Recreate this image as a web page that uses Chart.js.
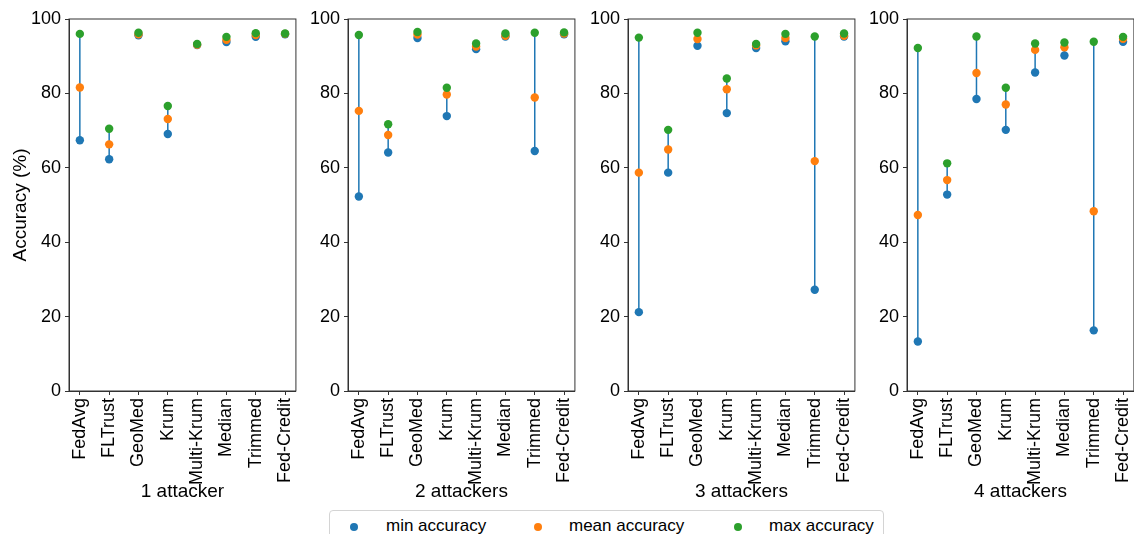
<!DOCTYPE html>
<html>
<head>
<meta charset="utf-8">
<script src="https://cdn.jsdelivr.net/npm/chart.js@4/dist/chart.umd.min.js"></script>
<style>
  html, body { margin: 0; padding: 0; background: #fff; overflow: hidden; }
  #wrap { position: relative; width: 1134px; height: 534px; overflow: hidden; }
  #wrap canvas { position: absolute; top: 0; }
  #legend {
    position: absolute; left: 329px; top: 510px; width: 553px; height: 40px;
    border: 1px solid #d4d4d4; border-radius: 4px; background: #fff;
    font-family: "Liberation Sans", Arial, sans-serif; font-size: 17px; color: #000;
  }
  #legend .dot { position: absolute; width: 8px; height: 8px; border-radius: 50%; top: 12px; }
  #legend .txt { position: absolute; top: 5px; line-height: 20px; white-space: nowrap; }
</style>
</head>
<body>
<div id="wrap">
  <canvas id="c1"></canvas>
  <canvas id="c2"></canvas>
  <canvas id="c3"></canvas>
  <canvas id="c4"></canvas>
  <div id="legend">
    <span class="dot" style="left:20px;background:#1f77b4"></span><span class="txt" style="left:56px">min accuracy</span>
    <span class="dot" style="left:204px;background:#ff7f0e"></span><span class="txt" style="left:239px">mean accuracy</span>
    <span class="dot" style="left:404px;background:#2ca02c"></span><span class="txt" style="left:439px">max accuracy</span>
  </div>
</div>
<script>
const categories = ["FedAvg", "FLTrust", "GeoMed", "Krum", "Multi-Krum", "Median", "Trimmed", "Fed-Credit"];
const panelTitles = ["1 attacker", "2 attackers", "3 attackers", "4 attackers"];
const yTicks = [0, 20, 40, 60, 80, 100];

// 1 attacker
const min1 = [67.4, 62.3, 95.6, 69.1, 93.0, 93.8, 95.2, 95.9];
const mean1 = [81.6, 66.3, 95.9, 73.1, 93.1, 94.4, 95.7, 96.0];
const max1 = [96.0, 70.5, 96.3, 76.6, 93.3, 95.2, 96.2, 96.1];
// 2 attackers
const min2 = [52.3, 64.1, 94.9, 73.9, 91.9, 95.3, 64.5, 95.9];
const mean2 = [75.3, 68.8, 95.8, 79.7, 92.6, 95.5, 78.9, 96.1];
const max2 = [95.7, 71.7, 96.5, 81.5, 93.4, 96.1, 96.3, 96.4];
// 3 attackers
const min3 = [21.2, 58.7, 92.8, 74.7, 92.2, 94.0, 27.2, 95.3];
const mean3 = [58.7, 64.9, 94.6, 81.1, 92.9, 94.9, 61.8, 95.5];
const max3 = [95.0, 70.2, 96.3, 84.0, 93.3, 96.0, 95.3, 96.1];
// 4 attackers
const min4 = [13.3, 52.8, 78.5, 70.2, 85.6, 90.2, 16.3, 93.9];
const mean4 = [47.3, 56.7, 85.5, 77.0, 91.7, 92.4, 48.3, 94.7];
const max4 = [92.2, 61.2, 95.3, 81.5, 93.4, 93.7, 93.9, 95.2];

const panels = [
  { min: min1, mean: mean1, max: max1 },
  { min: min2, mean: mean2, max: max2 },
  { min: min3, mean: mean3, max: max3 },
  { min: min4, mean: mean4, max: max4 },
];

const BLUE = "#1f77b4", ORANGE = "#ff7f0e", GREEN = "#2ca02c";
const plotLefts = [69, 348, 628, 907];
const plotWidth = 234;

Chart.defaults.font.family = '"Liberation Sans", Arial, sans-serif';
Chart.defaults.color = "#000";

// box around the plot area (top and right spines)
const frame = {
  id: "frame",
  afterDraw(chart) {
    const { ctx, chartArea: a } = chart;
    ctx.save();
    ctx.strokeStyle = "#333";
    ctx.lineWidth = 1;
    ctx.strokeRect(a.left, a.top, a.right - a.left, a.bottom - a.top);
    ctx.restore();
  },
};

function points(vals) {
  return vals.map((v, i) => ({ x: i, y: v }));
}

function ranges(lo, hi) {
  const out = [];
  lo.forEach((v, i) => {
    out.push({ x: i, y: v }, { x: i, y: hi[i] }, { x: i, y: null });
  });
  return out;
}

panels.forEach((p, k) => {
  const yWidth = k === 0 ? 69 : 42;
  const left = plotLefts[k] - yWidth;
  const canvas = document.getElementById("c" + (k + 1));
  const width = yWidth + plotWidth + 7;
  canvas.width = width;
  canvas.height = 534;
  canvas.style.left = left + "px";
  canvas.style.width = width + "px";
  canvas.style.height = "534px";

  new Chart(canvas, {
    type: "line",
    data: {
      datasets: [
        { data: ranges(p.min, p.max), borderColor: BLUE, borderWidth: 1.5, pointRadius: 0, spanGaps: false, order: 4 },
        { data: points(p.min), showLine: false, pointRadius: 4.2, pointBackgroundColor: BLUE, pointBorderWidth: 0, order: 3 },
        { data: points(p.mean), showLine: false, pointRadius: 4.2, pointBackgroundColor: ORANGE, pointBorderWidth: 0, order: 2 },
        { data: points(p.max), showLine: false, pointRadius: 4.2, pointBackgroundColor: GREEN, pointBorderWidth: 0, order: 1 },
      ],
    },
    options: {
      responsive: false,
      animation: false,
      events: [],
      layout: { padding: { left: 0, right: 7, top: 19, bottom: 28 } },
      plugins: { legend: { display: false }, tooltip: { enabled: false } },
      scales: {
        x: {
          type: "linear",
          min: -0.37,
          max: 7.37,
          afterBuildTicks: (s) => { s.ticks = categories.map((c, i) => ({ value: i })); },
          afterFit: (s) => { s.height = 115; },
          grid: { drawOnChartArea: false, drawTicks: true, tickLength: 4, color: "#333" },
          border: { display: true, color: "#333" },
          ticks: {
            autoSkip: false,
            maxRotation: 90,
            minRotation: 90,
            padding: 3,
            font: { size: 18 },
            callback: (v) => categories[v],
          },
          title: { display: true, text: panelTitles[k], font: { size: 19 }, padding: { top: 4, bottom: 3 } },
        },
        y: {
          min: 0,
          max: 100,
          afterBuildTicks: (s) => { s.ticks = yTicks.map((v) => ({ value: v })); },
          afterFit: (s) => { s.width = yWidth; },
          grid: { drawOnChartArea: false, drawTicks: true, tickLength: 4, color: "#333" },
          border: { display: true, color: "#333" },
          ticks: { padding: 4, font: { size: 18 } },
          title: { display: k === 0, text: "Accuracy (%)", font: { size: 19 }, padding: { top: 9, bottom: 0 } },
        },
      },
    },
    plugins: [frame],
  });
});
</script>
</body>
</html>
